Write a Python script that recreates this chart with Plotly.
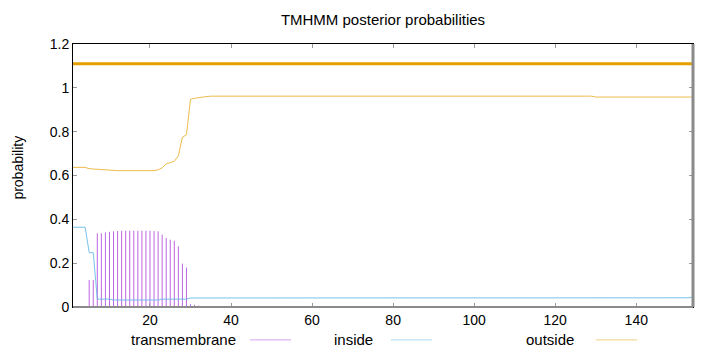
import plotly.graph_objects as go

# ---- data ----
seq_len = 154
x_ticks = [20, 40, 60, 80, 100, 120, 140]
y_ticks = [0, 0.2, 0.4, 0.6, 0.8, 1.0, 1.2]
y_tick_labels = ["0", "0.2", "0.4", "0.6", "0.8", "1", "1.2"]

tm_pos = [5, 6, 7, 8, 9, 10, 11, 12, 13, 14, 15, 16, 17, 18, 19, 20, 21, 22, 23, 24, 25,
          26, 27, 28, 29, 30, 31, 32, 33]
tm_val = [0.123, 0.123, 0.336, 0.336, 0.340, 0.343, 0.345, 0.347, 0.348, 0.348, 0.348,
          0.348, 0.348, 0.348, 0.348, 0.348, 0.346, 0.345, 0.330, 0.315, 0.307, 0.302,
          0.277, 0.198, 0.180, 0.013, 0.010, 0.006, 0.003]

inside_pos = [1, 4, 5, 6, 7, 10, 11, 22, 23, 29, 30, 152, 153, 154]
inside_val = [0.364, 0.364, 0.248, 0.248, 0.036, 0.036, 0.032, 0.032, 0.036, 0.036,
              0.041, 0.041, 0.042, 0.046]

outside_pos = [1, 4, 5, 6, 7, 8, 9, 10, 11, 12, 21, 22, 23, 24, 25, 26, 27, 28, 29, 30,
               31, 32, 33, 34, 35, 129, 130, 154]
outside_val = [0.637, 0.637, 0.631, 0.630, 0.628, 0.628, 0.626, 0.624, 0.623, 0.622,
               0.622, 0.626, 0.635, 0.653, 0.659, 0.665, 0.690, 0.775, 0.786, 0.948,
               0.952, 0.956, 0.958, 0.960, 0.962, 0.962, 0.958, 0.958]

# predicted topology bar (whole sequence outside)
topo_pos = [1, 154]
topo_val = [1.11, 1.11]

legend_names = ["transmembrane", "inside", "outside"]
c_tm = "#b24ce0"
c_in = "#56B4E9"
c_out = "#E69F00"
FONT = "Liberation Sans, Arial, sans-serif"
FONT_NARROW = "Liberation Sans Narrow, Arial Narrow, Liberation Sans, sans-serif"

# impulses built from the tm arrays
imp_x, imp_y = [], []
for p, v in zip(tm_pos, tm_val):
    imp_x += [p, p, None]
    imp_y += [0, v, None]

fig = go.Figure()
fig.add_trace(go.Scatter(x=imp_x, y=imp_y, mode="lines", opacity=0.85,
                         line=dict(color=c_tm, width=1), showlegend=False, hoverinfo="skip"))
fig.add_trace(go.Scatter(x=inside_pos, y=inside_val, mode="lines", opacity=0.8,
                         line=dict(color=c_in, width=1), showlegend=False))
fig.add_trace(go.Scatter(x=outside_pos, y=outside_val, mode="lines", opacity=0.7,
                         line=dict(color=c_out, width=1), showlegend=False))
fig.add_trace(go.Scatter(x=topo_pos, y=topo_val, mode="lines",
                         line=dict(color=c_out, width=3), showlegend=False))

axis_common = dict(showgrid=False, zeroline=False, showline=True, linecolor="#000000",
                   linewidth=1, mirror="allticks", ticks="inside", ticklen=4,
                   tickcolor="#999999", tickwidth=1,
                   tickfont=dict(family=FONT, size=14, color="#000000"))

fig.update_xaxes(range=[1, seq_len], tickvals=x_ticks, **axis_common)
fig.update_yaxes(range=[0, 1.2], tickvals=y_ticks, ticktext=y_tick_labels, **axis_common)

shapes = [
    # heavier grey right/bottom border as in the reference
    dict(type="line", xref="paper", yref="paper", x0=0, x1=1, y0=0, y1=0,
         line=dict(color="#8a8a8a", width=2), layer="above"),
    dict(type="line", xref="paper", yref="paper", x0=1, x1=1, y0=0, y1=1,
         line=dict(color="#8a8a8a", width=3), layer="above"),
]
annotations = [
    dict(text="probability", xref="paper", yref="paper", x=-0.0887, y=0.53,
         textangle=-90, xanchor="center", yanchor="middle", showarrow=False,
         font=dict(family=FONT_NARROW, size=14, color="#000")),
]
leg_text_right = [0.2661, 0.4870, 0.8113]
leg_line = [(0.2855, 0.3516), (0.5129, 0.5790), (0.8435, 0.9097)]
leg_colors = [c_tm, c_in, c_out]
for name, xr, (l0, l1), col in zip(legend_names, leg_text_right, leg_line, leg_colors):
    annotations.append(dict(text=name, xref="paper", yref="paper", x=xr, y=-0.125,
                            xanchor="right", yanchor="middle", showarrow=False,
                            font=dict(family=FONT, size=15, color="#000")))
    shapes.append(dict(type="line", xref="paper", yref="paper", x0=l0, x1=l1,
                       y0=-0.125, y1=-0.125, opacity=0.5, line=dict(color=col, width=1)))

fig.update_layout(
    width=720, height=352,
    margin=dict(l=73, r=27, t=44, b=45),
    paper_bgcolor="#ffffff", plot_bgcolor="#ffffff",
    title=dict(text="TMHMM posterior probabilities", x=0.5, xref="paper", xanchor="center",
               y=0.945, yref="container", yanchor="middle",
               font=dict(family=FONT, size=15, color="#000")),
    shapes=shapes, annotations=annotations, showlegend=False,
)

fig.write_html("out.html")
